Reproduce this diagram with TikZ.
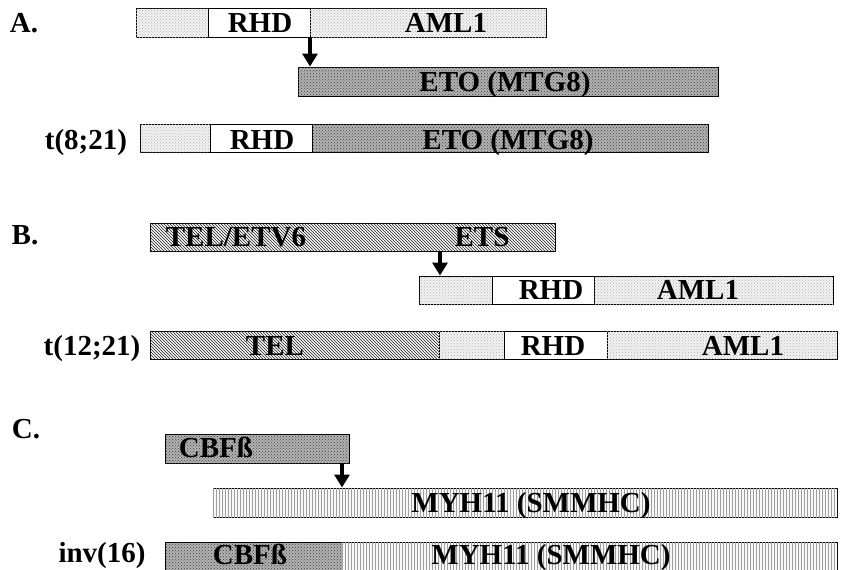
\documentclass[tikz,border=0pt]{standalone}
\usepackage{fontspec}
\setmainfont{Liberation Serif}
\usetikzlibrary{patterns,arrows.meta}
\tikzset{
  seg/.style={draw=black, line width=0.9pt, anchor=north west, inner sep=0pt, outer sep=0pt},
  lightdot/.style={fill=gray!10, postaction={pattern=crosshatch dots, pattern color=gray!60}},
  darkdot/.style={fill=gray!60, postaction={pattern=crosshatch dots, pattern color=black!75}},
  plain/.style={fill=white},
  hatch/.style={fill=gray!8, postaction={pattern=north west lines, pattern color=black!85}},
  vlines/.style={fill=gray!6, postaction={pattern=vertical lines, pattern color=gray!75}},
  lbl/.style={font=\fontsize{29}{29}\selectfont\bfseries, inner sep=0pt, anchor=base},
  arr/.style={line width=3.6pt, -{Triangle[width=15pt,length=13pt]}, shorten >=0.5pt},
}
\newcommand\segbox[6]{\node[seg,#1,minimum width={(#4-#3)*1pt},minimum height={(#6-#5)*1pt}] (#2) at (#3,#5) {};}
\begin{document}
\begin{tikzpicture}[x=1pt,y=-1pt]
\useasboundingbox (0,0) rectangle (841,570);
\clip (0,0) rectangle (841,570);
% ---------- A ----------
\node[lbl] (labA) at (24,32) {A.};
\segbox{lightdot}{a1}{136}{208}{8}{37}
\segbox{plain}{a2}{208}{310}{8}{37}
\segbox{lightdot}{a3}{310}{546}{8}{37}
\node[lbl] (ta2) at (260,32) {RHD};
\node[lbl] (ta3) at (446,32) {AML1};
\segbox{darkdot}{eto}{298}{718}{67}{96}
\node[lbl] (teto) at (505,91) {ETO (MTG8)};
\draw[arr] (a2.south east) -- (a2.south east |- eto.north);
\node[lbl] (labt1) at (86,149) {t(8;21)};
\segbox{lightdot}{t1}{140}{210}{124}{152}
\segbox{plain}{t2}{210}{312}{124}{152}
\segbox{darkdot}{t3}{312}{708}{124}{152}
\node[lbl] (tt2) at (262,149) {RHD};
\node[lbl] (tt3) at (508,149) {ETO (MTG8)};
% ---------- B ----------
\node[lbl] (labB) at (25,244) {B.};
\segbox{hatch}{tel}{150}{555}{223}{251}
\node[lbl] (ttel) at (236,246) {TEL/ETV6};
\node[lbl] (tets) at (482,246) {ETS};
\segbox{lightdot}{b1}{419}{492}{276}{304}
\segbox{plain}{b2}{492}{594}{276}{304}
\segbox{lightdot}{b3}{594}{833}{276}{304}
\node[lbl] (tb2) at (551,299) {RHD};
\node[lbl] (tb3) at (698,299) {AML1};
\coordinate (ca) at ([xshift=290pt]tel.south west);
\draw[arr] (ca) -- (ca |- b1.north);
\node[lbl] (labt2) at (92,355) {t(12;21)};
\segbox{hatch}{c1}{150}{439}{331}{359}
\segbox{lightdot}{c2}{439}{504}{331}{359}
\segbox{plain}{c3}{504}{607}{331}{359}
\segbox{lightdot}{c4}{607}{837}{331}{359}
\node[lbl] (tc1) at (275,355) {TEL};
\node[lbl] (tc3) at (553,355) {RHD};
\node[lbl] (tc4) at (743,355) {AML1};
% ---------- C ----------
\node[lbl] (labC) at (26,438) {C.};
\segbox{darkdot}{cbf}{165}{349}{434}{463}
\node[lbl] (tcbf) at (216,457) {CBFß};
\segbox{vlines}{myh}{213}{837}{488}{517}
\node[lbl] (tmyh) at (531,512) {MYH11 (SMMHC)};
\coordinate (cc) at ([xshift=-7pt]cbf.south east);
\draw[arr] (cc) -- (cc |- myh.north);
\node[lbl] (labi) at (102,562) {inv(16)};
\segbox{darkdot}{d1}{165}{342}{542}{574}
\segbox{vlines}{d2}{342}{837}{542}{574}
\node[lbl] (td1) at (250,564) {CBFß};
\node[lbl] (td2) at (551,564) {MYH11 (SMMHC)};
\end{tikzpicture}
\end{document}
